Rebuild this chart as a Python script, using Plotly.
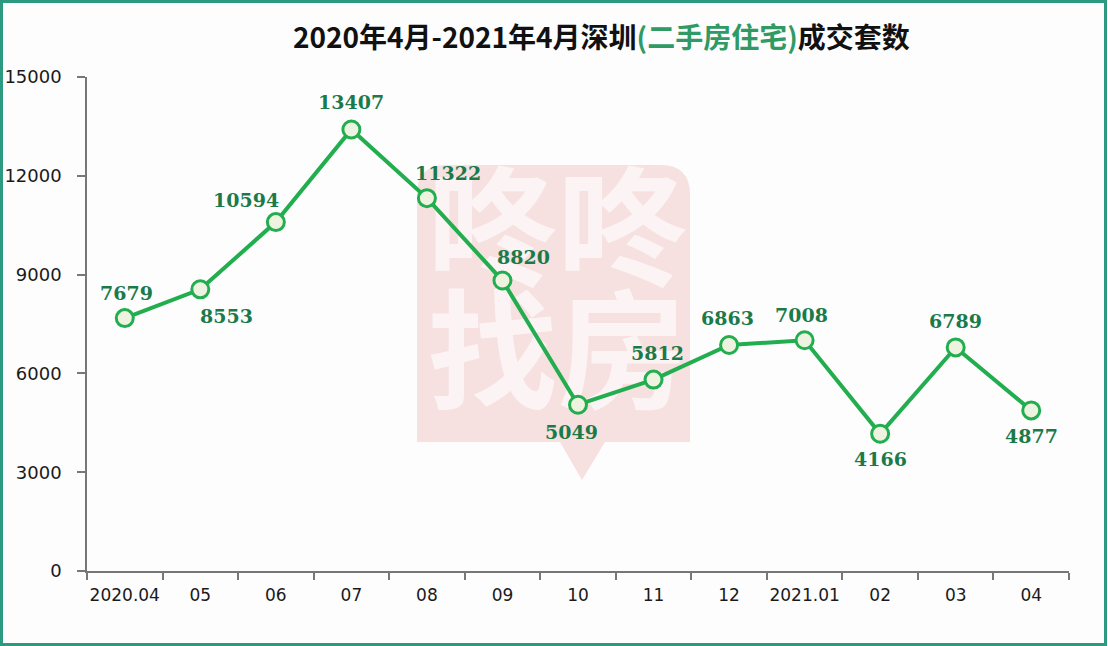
import plotly.graph_objects as go

months = ["2020.04", "05", "06", "07", "08", "09", "10", "11", "12", "2021.01", "02", "03", "04"]
deals = [7679, 8553, 10594, 13407, 11322, 8820, 5049, 5812, 6863, 7008, 4166, 6789, 4877]
label_dx = [2, 26, -30, 0, 21, 21, -7, 4, -2, -3, 0, 0, 0]
label_dy = [25, -27, 22, 27, 25, 24, -27, 27, 27, 25, -25, 26, -26]
y_ticks = [0, 3000, 6000, 9000, 12000, 15000]

W, H = 1108, 646
ML, MR, MT, MB = 87, 39, 77, 75
PW, PH = W - ML - MR, H - MT - MB


def px(x):
    return (x - ML) / PW


def py(y):
    return (H - MB - y) / PH


fig = go.Figure()
fig.add_trace(go.Scatter(
    x=months, y=deals, mode="lines+markers",
    line=dict(color="#22ad4f", width=4),
    marker=dict(size=17, color="#eef3e0", line=dict(color="#22ad4f", width=3)),
    hoverinfo="skip", cliponaxis=False,
))

annotations = [dict(
    x=i, y=v, xref="x", yref="y", text=str(v), showarrow=False,
    xshift=dx, yshift=dy, xanchor="center", yanchor="middle",
    font=dict(family="DejaVu Serif", size=19, color="#1b7a4a", weight="bold"),
) for i, (v, dx, dy) in enumerate(zip(deals, label_dx, label_dy))]

annotations.append(dict(
    text="2020年4月-2021年4月深圳<span style='color:#2f9a63'>(二手房住宅)</span>成交套数",
    xref="paper", yref="paper", x=px(601), y=py(36), xanchor="center", yanchor="middle",
    showarrow=False,
    font=dict(family="Noto Sans CJK SC", size=28, color="#111111", weight="bold"),
))

# watermark shield
x0, x1, yt, yb, tipx, tipy, r = px(417), px(690), py(165), py(442), px(582), py(480), 0.03
shield = (f"M {x0+r},{yt} L {x1-r},{yt} Q {x1},{yt} {x1},{yt - r*2} "
          f"L {x1},{yb} L {px(605)},{yb} L {tipx},{tipy} L {px(560)},{yb} "
          f"L {x0},{yb} L {x0},{yt - r*2} Q {x0},{yt} {x0+r},{yt} Z")
shapes = [
    dict(type="path", path=shield, xref="paper", yref="paper", layer="below",
         fillcolor="#f6e0e0", line=dict(width=0)),
    dict(type="rect", xref="paper", yref="paper", layer="below",
         x0=px(425), x1=px(690), y0=py(305), y1=py(175), line=dict(width=0),
         fillcolor="rgba(0,0,0,0)",
         label=dict(text="咚咚", textposition="middle center",
                    font=dict(family="Noto Sans CJK SC", size=130, color="#fcf4f4", weight="bold"))),
    dict(type="rect", xref="paper", yref="paper", layer="below",
         x0=px(425), x1=px(690), y0=py(428), y1=py(298), line=dict(width=0),
         fillcolor="rgba(0,0,0,0)",
         label=dict(text="找房", textposition="middle center",
                    font=dict(family="Noto Sans CJK SC", size=130, color="#fcf4f4", weight="bold"))),
    # outer frame
    dict(type="rect", xref="paper", yref="paper", layer="above",
         x0=px(1.5), x1=px(W - 2.5), y0=py(H - 1.5), y1=py(1.5),
         line=dict(color="#2b9a80", width=3), fillcolor="rgba(0,0,0,0)"),
]

fig.update_layout(
    width=W, height=H,
    margin=dict(l=ML, r=MR, t=MT, b=MB),
    paper_bgcolor="#fdfdfe", plot_bgcolor="#fdfdfe",
    showlegend=False,
    shapes=shapes,
    annotations=annotations,
    xaxis=dict(
        type="category", categoryorder="array", categoryarray=months,
        range=[-0.5, len(months) - 0.5], tickson="boundaries", tickangle=0,
        ticks="outside", ticklen=7, tickcolor="#777", tickwidth=1.5,
        showline=True, linecolor="#777", linewidth=1.5, showgrid=False, zeroline=False,
        tickfont=dict(family="DejaVu Sans", size=17, color="#1a1a1a"),
        ticklabelstandoff=8, automargin=False,
    ),
    yaxis=dict(
        range=[0, 15000], tickmode="array", tickvals=y_ticks,
        ticktext=[str(v) for v in y_ticks],
        ticks="outside", ticklen=8, tickcolor="#777", tickwidth=1.5,
        showline=True, linecolor="#777", linewidth=1.5, showgrid=False, zeroline=False,
        tickfont=dict(family="DejaVu Sans", size=18, color="#1a1a1a"),
        ticklabelstandoff=12, automargin=False,
    ),
)

fig.write_html("out.html")
